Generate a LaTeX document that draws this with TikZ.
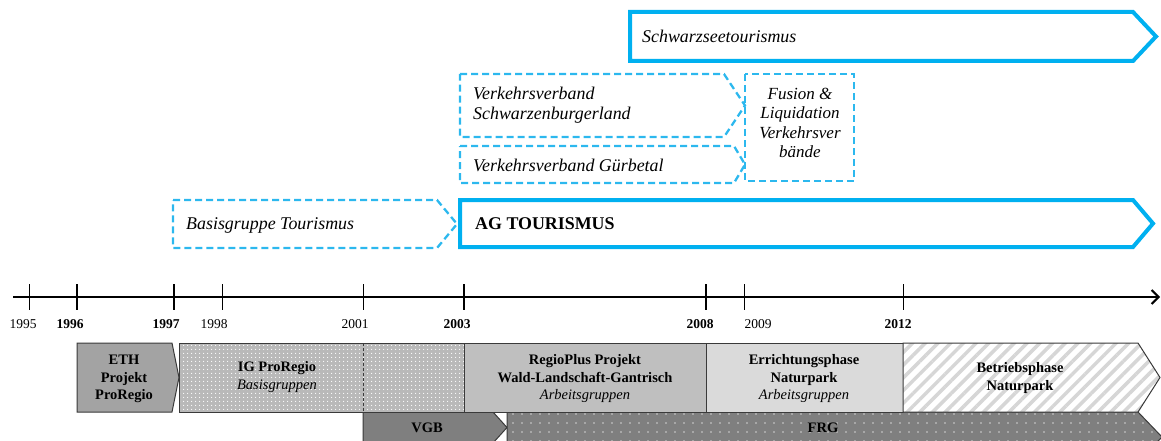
\documentclass[tikz,border=0pt]{standalone}
\usepackage{fontspec}
\setmainfont{Liberation Serif}
\usetikzlibrary{arrows.meta,patterns.meta}

\definecolor{tblue}{HTML}{00B0F0}
\definecolor{dblue}{HTML}{2CB8EE}
\definecolor{edgegray}{HTML}{3A3A3A}
\definecolor{ethgray}{HTML}{A3A3A3}
\definecolor{iggray}{HTML}{B9B9B9}
\definecolor{regiogray}{HTML}{BFBFBF}
\definecolor{errgray}{HTML}{DADADA}
\definecolor{stripegray}{HTML}{D6D6D6}
\definecolor{darkgray}{HTML}{7F7F7F}
\definecolor{frgdot}{HTML}{D0D0D0}

\begin{document}
\begin{tikzpicture}[x=1pt,y=-1pt,
  solidband/.style={draw=tblue, line width=4pt},
  dashband/.style={draw=dblue, line width=2.3pt, dash pattern=on 7pt off 4pt},
  toptext/.style={font=\fontsize{17.9}{20}\selectfont\itshape, inner sep=0pt, text=black},
  phasebox/.style={draw=edgegray, line width=1pt},
  phasetext/.style={font=\fontsize{14.5}{17.5}\selectfont\bfseries, align=center, inner sep=0pt, text=black},
  yearlabel/.style={font=\fontsize{13.5}{14}\selectfont, inner sep=0pt, text=black},
  boldyear/.style={yearlabel, font=\fontsize{13.5}{14}\selectfont\bfseries},
  thintick/.style={line width=1pt, black},
  boldtick/.style={line width=2pt, black}
]
\clip (0,0) rectangle (1161,441);

% ---------- tourism organisations (upper part) ----------
\draw[solidband] (630,12) -- (1133,12) -- (1156,36.5) -- (1133,61) -- (630,61) -- cycle;
\node[toptext, anchor=west] (schwarzsee) at (642,36.5) {Schwarzseetourismus};

\draw[dashband] (460,74) -- (724,74) -- (745,105.5) -- (724,137) -- (460,137) -- cycle;
\node[toptext, anchor=west, align=left] (vvsb) at (473,105.5) {Verkehrsverband\\Schwarzenburgerland};

\draw[dashband] (460,146) -- (734,146) -- (745,164.5) -- (734,183) -- (460,183) -- cycle;
\node[toptext, anchor=west] (vvg) at (473,165.5) {Verkehrsverband Gürbetal};

\draw[dashband] (745,74) rectangle (854,181);
\node[toptext, align=center, font=\fontsize{17}{19.5}\selectfont\itshape] (fusion) at (800,123) {Fusion \&\\Liquidation\\Verkehrsver\\bände};

\draw[dashband] (173,200) -- (437,200) -- (457,224) -- (437,248) -- (173,248) -- cycle;
\node[toptext, anchor=west] (basis) at (186,225) {Basisgruppe Tourismus};

\draw[solidband] (460,200) -- (1133,200) -- (1153,223.5) -- (1133,247) -- (460,247) -- cycle;
\node[toptext, anchor=west, font=\fontsize{17.9}{20}\selectfont\bfseries] (ag) at (475,224) {AG TOURISMUS};

% ---------- time axis ----------
\coordinate (axstart) at (13,297);
\coordinate (axend) at (1160,297);
\draw[line width=2pt, -{Straight Barb[length=7pt,width=14pt,line width=2pt]}] (axstart) -- (axend);

\foreach \x in {29, 222, 363, 744, 903}
  \draw[thintick] (\x,284) -- (\x,310);
\foreach \x in {77, 174, 464, 706}
  \draw[boldtick] (\x,284) -- (\x,310);

\node[yearlabel] (y1995) at (23,324) {1995};
\node[boldyear] (y1996) at (70,324) {1996};
\node[boldyear] (y1997) at (166,324) {1997};
\node[yearlabel] (y1998) at (214,324) {1998};
\node[yearlabel] (y2001) at (355,324) {2001};
\node[boldyear] (y2003) at (457,324) {2003};
\node[boldyear] (y2008) at (700,324) {2008};
\node[yearlabel] (y2009) at (758,324) {2009};
\node[boldyear] (y2012) at (898,324) {2012};

% ---------- project phases (lower part) ----------
\draw[phasebox, fill=darkgray] (363,412) -- (493,412) -- (507,427.5) -- (493,443) -- (363,443) -- cycle;
\node[phasetext] (vgb) at (427,428) {VGB};

\draw[phasebox, preaction={fill=darkgray}, pattern={Dots[distance=9pt, radius=0.9pt]}, pattern color=frgdot]
  (507,412) -- (1138,412) -- (1162,437) -- (1138,462) -- (507,462) -- cycle;
\node[phasetext] (frg) at (823,428) {FRG};

\draw[phasebox, fill=ethgray] (77,343) -- (172,343) -- (179,377.5) -- (172,412) -- (77,412) -- cycle;
\node[phasetext] (eth) at (124,379) {ETH\\Projekt\\ProRegio};

\draw[phasebox, preaction={fill=iggray}, pattern={Dots[distance=4pt, radius=0.7pt]}, pattern color=white]
  (179,343) rectangle (464,412);
\draw[edgegray, line width=0.9pt, dash pattern=on 3pt off 2pt] (363,343) -- (363,412);
\node[phasetext] (ig) at (277,377) {IG ProRegio\\{\mdseries\itshape Basisgruppen}};

\draw[phasebox, fill=regiogray] (464,343) rectangle (706,412);
\node[phasetext] (regio) at (585,379) {RegioPlus Projekt\\Wald-Landschaft-Gantrisch\\{\mdseries\itshape Arbeitsgruppen}};

\draw[phasebox, fill=errgray] (706,343) rectangle (903,412);
\node[phasetext] (err) at (804,379) {Errichtungsphase\\Naturpark\\{\mdseries\itshape Arbeitsgruppen}};

\draw[phasebox, preaction={fill=white}, pattern={Lines[angle=45, distance=9pt, line width=3.5pt]}, pattern color=stripegray]
  (903,343) -- (1138,343) -- (1160,377.5) -- (1138,412) -- (903,412) -- cycle;
\node[phasetext] (betrieb) at (1020,378) {Betriebsphase\\Naturpark};
\end{tikzpicture}
\end{document}
